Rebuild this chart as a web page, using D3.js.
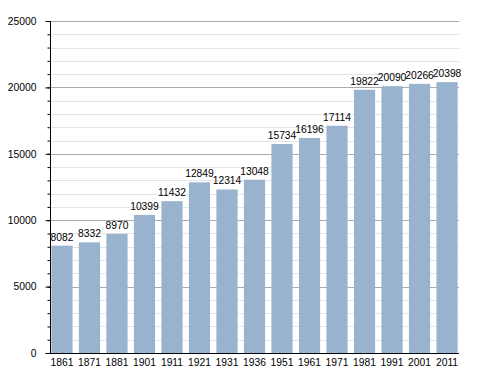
<!DOCTYPE html>
<html>
<head>
<meta charset="utf-8">
<script src="https://cdn.jsdelivr.net/npm/d3@7"></script>
<style>
  body { margin: 0; background: #fff; }
  text { font-family: "Liberation Sans", Arial, sans-serif; }
</style>
</head>
<body>
<div id="chart"></div>
<script>
const years = ['1861', '1871', '1881', '1901', '1911', '1921', '1931', '1936', '1951', '1961', '1971', '1981', '1991', '2001', '2011'];
const population = [8082, 8332, 8970, 10399, 11432, 12849, 12314, 13048, 15734, 16196, 17114, 19822, 20090, 20266, 20398];
const majorTicks = [0, 5000, 10000, 15000, 20000, 25000];

const W = 488, H = 373;
const plot = { left: 50, right: 459, top: 21, bottom: 353 };
const fontSize = 10.3;

const svg = d3.select('#chart').append('svg')
	.attr('width', W)
	.attr('height', H);

const x = d3.scaleBand()
	.domain(years)
	.range([plot.left, plot.right])
	.paddingInner(0.23)
	.paddingOuter(0.05);

const y = d3.scaleLinear()
	.domain([0, 25000])
	.range([plot.bottom, plot.top]);

const minorTicks = d3.range(0, 25001, 1000);

// grid lines
svg.append('g').selectAll('line')
	.data(minorTicks.filter(d => d % 5000 != 0))
	.enter().append('line')
	.attr('x1', plot.left).attr('x2', plot.right)
	.attr('y1', d => Math.round(y(d)) + 0.5).attr('y2', d => Math.round(y(d)) + 0.5)
	.attr('stroke', '#e4e4e4');

svg.append('g').selectAll('line')
	.data(majorTicks.filter(d => d > 0))
	.enter().append('line')
	.attr('x1', plot.left).attr('x2', plot.right)
	.attr('y1', d => Math.round(y(d)) + 0.5).attr('y2', d => Math.round(y(d)) + 0.5)
	.attr('stroke', '#aaaaaa');

// bars
svg.append('g').selectAll('rect')
	.data(population)
	.enter().append('rect')
	.attr('x', (d, i) => x(years[i]))
	.attr('y', d => y(d))
	.attr('width', x.bandwidth())
	.attr('height', d => plot.bottom - y(d))
	.attr('fill', '#99b3cf');

// value labels
svg.append('g').selectAll('text')
	.data(population)
	.enter().append('text')
	.attr('x', (d, i) => x(years[i]) + x.bandwidth() / 2)
	.attr('y', d => y(d) - 5)
	.attr('text-anchor', 'middle')
	.attr('font-size', fontSize)
	.attr('fill', '#000')
	.text(d => d);

// y axis
let yAxisMinor = d3.axisLeft(y).tickValues(minorTicks).tickSize(3).tickFormat('');
svg.append('g')
	.attr('transform', 'translate(' + (plot.left + 0.5) + ',0)')
	.call(yAxisMinor)
	.call(g => g.select('.domain').remove());

let yAxis = d3.axisLeft(y).tickValues(majorTicks).tickSize(5).tickPadding(9).tickFormat(d => d);
let yG = svg.append('g')
	.attr('transform', 'translate(' + (plot.left + 0.5) + ',0)')
	.call(yAxis);
yG.select('.domain').remove();
yG.selectAll('.tick text')
	.attr('font-size', fontSize)
	.attr('font-family', '"Liberation Sans", Arial, sans-serif')
	.attr('fill', '#000');

svg.append('line')
	.attr('x1', plot.left + 0.5).attr('x2', plot.left + 0.5)
	.attr('y1', plot.top).attr('y2', plot.bottom + 1)
	.attr('stroke', '#000');

// x axis
let xAxis = d3.axisBottom(x).tickSize(0).tickPadding(5);
let xG = svg.append('g')
	.attr('transform', 'translate(0,' + (plot.bottom + 0.5) + ')')
	.call(xAxis);
xG.select('.domain').remove();
xG.selectAll('.tick text')
	.attr('font-size', fontSize)
	.attr('font-family', '"Liberation Sans", Arial, sans-serif')
	.attr('fill', '#000');

svg.append('line')
	.attr('x1', plot.left).attr('x2', plot.right)
	.attr('y1', plot.bottom + 0.5).attr('y2', plot.bottom + 0.5)
	.attr('stroke', '#000');
</script>
</body>
</html>
